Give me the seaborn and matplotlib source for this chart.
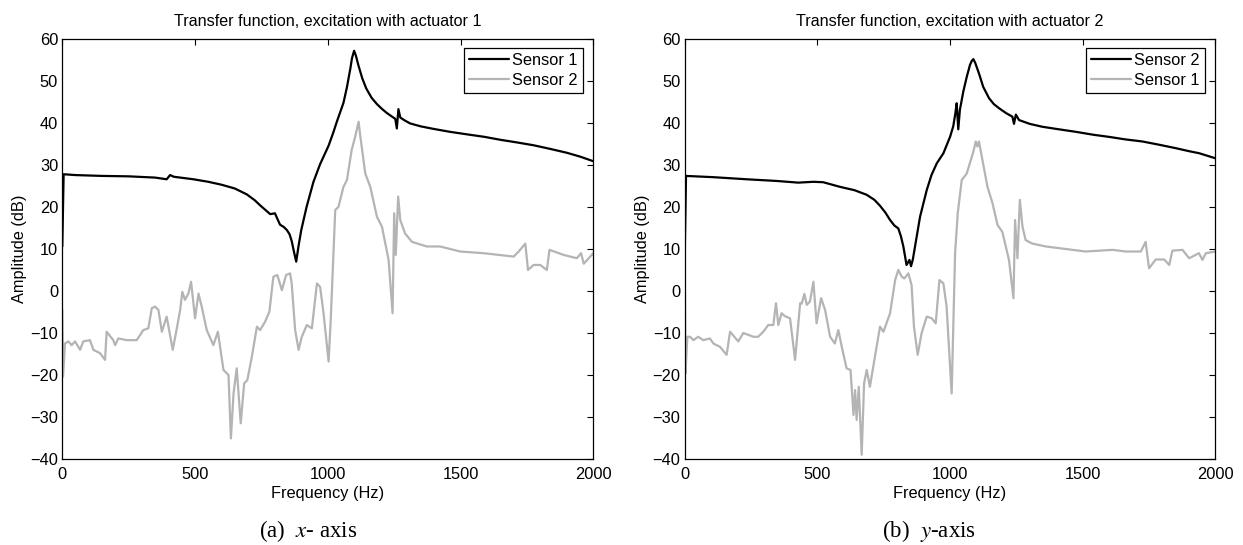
import matplotlib
matplotlib.use("Agg")
import matplotlib.pyplot as plt
import seaborn as sns
import pandas as pd

# ---------------- data ----------------
# (a) excitation with actuator 1
a_s1_freq = [0, 5, 50, 150, 250, 350, 393, 406, 420, 494, 550, 600, 650, 695, 725, 745, 765, 783, 801,
             810, 820, 835, 846, 856, 864, 872, 881, 890, 900, 920, 946, 971, 1003, 1020, 1034, 1059,
             1072, 1085, 1091, 1099, 1106, 1115, 1130, 1145, 1165, 1185, 1205, 1222, 1240, 1254, 1260,
             1266, 1273, 1290, 1310, 1350, 1398, 1460, 1524, 1590, 1650, 1710, 1775, 1840, 1901, 1950,
             2000]
a_s1_db = [10.6, 27.8, 27.6, 27.4, 27.3, 27.0, 26.6, 27.6, 27.2, 26.6, 26.0, 25.3, 24.4, 23.0, 21.6,
           20.4, 19.3, 18.3, 18.5, 17.2, 15.8, 15.2, 14.5, 13.5, 11.9, 9.5, 7.0, 10.8, 14.5, 20.0, 26.0,
           30.2, 34.6, 37.6, 40.3, 44.8, 48.5, 53.0, 55.4, 57.2, 56.0, 53.8, 50.6, 48.2, 46.0, 44.5,
           43.3, 42.4, 41.6, 41.0, 38.7, 43.3, 41.3, 40.6, 39.9, 39.2, 38.6, 37.9, 37.3, 36.7, 36.0,
           35.4, 34.7, 33.8, 32.9, 32.0, 30.9]

a_s2_freq = [0, 3, 10, 23, 35, 48, 67, 79, 104, 117, 142, 161, 167, 192, 199, 211, 243, 280, 293, 305,
             324, 337, 349, 362, 375, 393, 416, 431, 444, 452, 462, 475, 485, 500, 513, 525, 544, 569,
             586, 607, 626, 635, 645, 657, 672, 685, 697, 714, 733, 745, 764, 780, 795, 810, 827, 843,
             858, 864, 877, 890, 902, 921, 940, 959, 971, 984, 1003, 1011, 1028, 1040, 1059, 1072, 1090,
             1103, 1116, 1122, 1141, 1160, 1185, 1204, 1229, 1244, 1250, 1256, 1265, 1273, 1291, 1317,
             1373, 1423, 1499, 1587, 1700, 1719, 1744, 1754, 1775, 1800, 1825, 1835, 1888, 1938, 1954,
             1964, 2000]
a_s2_db = [-4.5, -20.4, -12.5, -12.0, -12.9, -12.0, -14.0, -12.0, -11.7, -14.0, -14.8, -16.4, -9.7,
           -11.7, -12.9, -11.3, -11.7, -11.7, -10.5, -9.3, -8.9, -4.1, -3.7, -4.5, -9.7, -6.1, -14.0,
           -9.0, -4.5, -0.2, -2.1, -0.6, 2.2, -6.5, -0.6, -3.7, -9.3, -12.9, -9.7, -18.8, -20.0, -35.1,
           -24.4, -18.4, -31.5, -22.0, -21.2, -15.6, -8.5, -9.3, -7.3, -4.9, 3.4, 3.8, 0.2, 3.8, 4.2,
           1.8, -9.3, -14.0, -10.9, -8.1, -8.9, 1.8, 1.0, -5.3, -16.8, -6.9, 19.3, 20.0, 24.8, 26.4,
           33.6, 36.7, 40.3, 37.1, 28.0, 24.8, 17.7, 15.3, 7.4, -5.3, 18.5, 8.6, 22.5, 16.9, 13.7, 11.7,
           10.6, 10.6, 9.4, 9.0, 8.2, 9.4, 11.3, 5.0, 6.2, 6.2, 5.0, 9.8, 8.6, 7.8, 9.0, 6.5, 9.0]

# (b) excitation with actuator 2
b_s2_freq = [0, 5, 108, 234, 347, 428, 485, 522, 585, 640, 686, 715, 736, 756, 774, 790, 805, 815, 824,
             836, 847, 853, 860, 868, 887, 912, 930, 950, 975, 1000, 1012, 1020, 1025, 1031, 1037, 1050,
             1063, 1075, 1082, 1088, 1095, 1109, 1125, 1147, 1165, 1185, 1210, 1235, 1241, 1248, 1260,
             1300, 1348, 1410, 1474, 1540, 1599, 1660, 1725, 1790, 1851, 1900, 1939, 2000]
b_s2_db = [8.2, 27.4, 27.1, 26.6, 26.2, 25.8, 26.0, 25.9, 24.8, 24.0, 22.9, 21.7, 20.3, 18.7, 16.9,
           15.6, 14.9, 13.0, 10.6, 6.2, 7.4, 5.9, 7.6, 10.6, 17.7, 24.0, 27.6, 30.4, 32.8, 36.7, 39.2,
           42.3, 44.7, 38.5, 43.1, 47.5, 51.0, 53.8, 54.8, 55.2, 54.3, 51.8, 48.6, 45.9, 44.5, 43.5,
           42.4, 41.5, 39.8, 42.0, 40.7, 39.8, 39.1, 38.5, 37.9, 37.2, 36.7, 36.1, 35.6, 34.8, 34.0,
           33.3, 32.8, 31.6]

b_s1_freq = [0, 3, 10, 20, 33, 51, 70, 95, 108, 133, 158, 171, 202, 221, 259, 277, 296, 315, 334, 344,
             353, 365, 378, 397, 416, 435, 441, 451, 460, 472, 485, 497, 514, 529, 548, 566, 579, 592,
             610, 625, 636, 642, 648, 656, 667, 676, 686, 698, 717, 736, 749, 774, 793, 805, 818, 828,
             843, 855, 864, 878, 893, 912, 931, 946, 960, 975, 987, 1006, 1019, 1029, 1044, 1063, 1088,
             1097, 1103, 1109, 1122, 1141, 1160, 1179, 1197, 1222, 1239, 1245, 1254, 1263, 1273, 1285,
             1310, 1361, 1411, 1511, 1612, 1662, 1719, 1737, 1750, 1775, 1807, 1826, 1838, 1876, 1901,
             1938, 1951, 1964, 2000]
b_s1_db = [8.2, -19.6, -10.9, -10.9, -11.7, -10.9, -11.7, -11.3, -12.5, -13.3, -15.2, -9.7, -12.0,
           -10.0, -10.9, -10.9, -9.7, -8.1, -8.1, -2.9, -8.1, -5.3, -6.0, -6.5, -16.4, -2.9, -3.0, -0.7,
           -3.3, -2.5, 2.2, -7.7, -1.7, -4.5, -10.9, -12.5, -9.3, -13.3, -18.4, -18.8, -29.5, -23.6,
           -30.7, -22.8, -39.0, -22.0, -18.8, -22.8, -15.6, -8.5, -9.7, -5.3, 2.6, 5.0, 3.4, 3.0, 4.2,
           1.4, -8.5, -15.2, -10.0, -6.1, -6.5, -7.7, 2.6, 1.8, -3.7, -24.4, 9.0, 18.5, 26.4, 28.0, 33.2,
           35.6, 34.4, 35.6, 31.2, 24.8, 20.9, 15.7, 14.1, 7.4, -1.7, 16.9, 7.8, 21.7, 15.3, 12.1, 11.3,
           10.6, 10.2, 9.4, 9.8, 9.4, 9.4, 11.7, 5.4, 7.5, 7.5, 6.2, 9.6, 9.8, 7.8, 9.0, 7.4, 9.0, 9.4]

titles = ["Transfer function, excitation with actuator 1", "Transfer function, excitation with actuator 2"]
captions = ["(a)  $x$- axis", "(b)  $y$-axis"]
x_ticks = [0, 500, 1000, 1500, 2000]
y_ticks = [-40, -30, -20, -10, 0, 10, 20, 30, 40, 50, 60]


def frame(freq, db, name):
    return pd.DataFrame({"Frequency (Hz)": freq, "Amplitude (dB)": db, "sensor": name})


df_a = pd.concat([frame(a_s1_freq, a_s1_db, "Sensor 1"), frame(a_s2_freq, a_s2_db, "Sensor 2")],
                 ignore_index=True)
df_b = pd.concat([frame(b_s2_freq, b_s2_db, "Sensor 2"), frame(b_s1_freq, b_s1_db, "Sensor 1")],
                 ignore_index=True)

# ---------------- style ----------------
sns.set_style("white")
plt.rcParams["font.family"] = ["Liberation Sans", "DejaVu Sans"]
plt.rcParams["mathtext.fontset"] = "stix"
plt.rcParams["axes.edgecolor"] = "black"
plt.rcParams["axes.linewidth"] = 0.9
plt.rcParams["text.color"] = "black"
plt.rcParams["axes.labelcolor"] = "black"
plt.rcParams["xtick.color"] = "black"
plt.rcParams["ytick.color"] = "black"

W, H = 1243, 545
fig = plt.figure(figsize=(W / 100, H / 100), dpi=100)
ax_a = fig.add_axes([62.3 / W, 1 - 459 / H, 531 / W, 420 / H])
ax_b = fig.add_axes([684.7 / W, 1 - 459 / H, 530.7 / W, 420 / H])

fs = 11.8
configs = [
    (ax_a, df_a, ["Sensor 1", "Sensor 2"], {"Sensor 1": "black", "Sensor 2": "#b4b4b4"}),
    (ax_b, df_b, ["Sensor 2", "Sensor 1"], {"Sensor 2": "black", "Sensor 1": "#b4b4b4"}),
]
cap_x = [308.5, 928.7]

for i, (ax, df, order, pal) in enumerate(configs):
    sns.lineplot(data=df, x="Frequency (Hz)", y="Amplitude (dB)", hue="sensor", hue_order=order,
                 palette=pal, estimator=None, sort=True, linewidth=1.6, ax=ax)
    ax.set_xlim(0, 2000)
    ax.set_ylim(-40, 60)
    ax.set_xticks(x_ticks)
    ax.set_yticks(y_ticks)
    ax.set_yticklabels([str(v).replace("-", "\u2212") for v in y_ticks])
    ax.tick_params(axis="x", pad=5.5)
    ax.tick_params(axis="y", pad=3)
    ax.tick_params(direction="in", top=True, right=True, length=4, width=0.8, labelsize=fs)
    ax.set_title(titles[i], fontsize=fs - 0.2, pad=9)
    ax.set_xlabel("Frequency (Hz)", fontsize=fs, labelpad=3)
    ax.set_ylabel("Amplitude (dB)", fontsize=fs, labelpad=2)
    for sp in ax.spines.values():
        sp.set_visible(True)
        sp.set_color("black")
    leg = ax.legend(loc="upper right", bbox_to_anchor=(0.981, 0.979), borderaxespad=0,
                    fontsize=fs, frameon=True, fancybox=False, edgecolor="black", framealpha=1,
                    handlelength=2.45, handletextpad=0.2, labelspacing=0.28, borderpad=0.32)
    leg.get_frame().set_linewidth(0.9)
    for ln in leg.get_lines():
        ln.set_linewidth(1.6)
    fig.text(cap_x[i] / W, 1 - 531 / H, captions[i], ha="center", va="center",
             fontsize=16.5, family=["Liberation Serif", "DejaVu Serif"])

fig.savefig("out.png", dpi=100)
